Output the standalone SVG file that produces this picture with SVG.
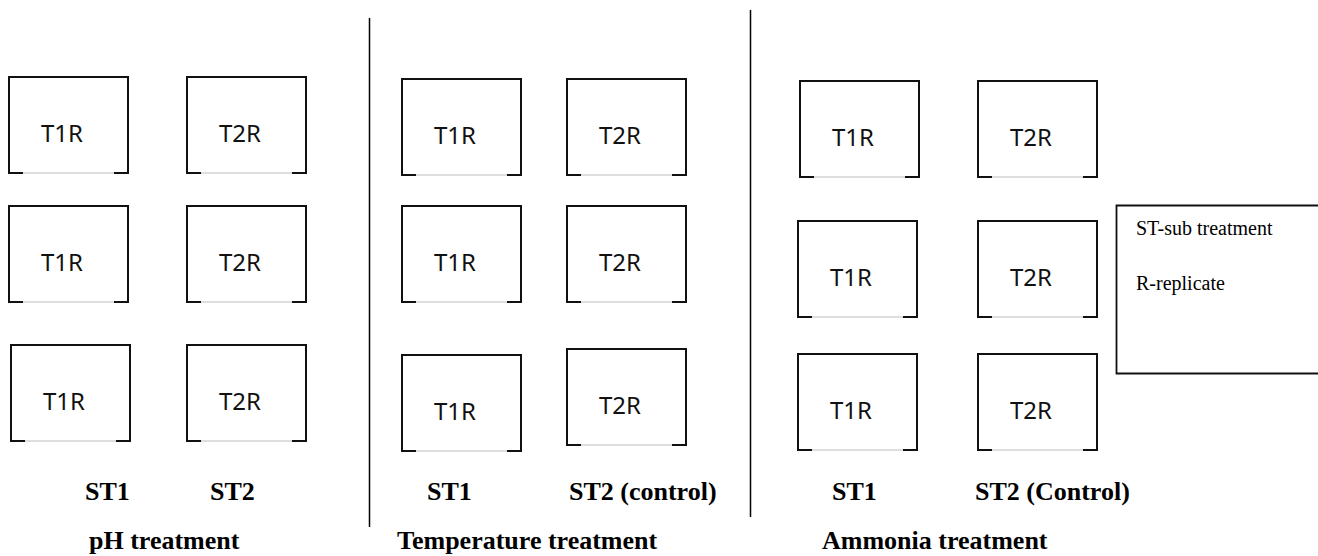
<svg xmlns="http://www.w3.org/2000/svg" xmlns:xlink="http://www.w3.org/1999/xlink" width="1318" height="556" viewBox="0 0 1318 556">
<style>
.edge{fill:none;stroke:#111;stroke-width:2}
.base{fill:none;stroke:#bdbdbd;stroke-width:1}
.bt{font-family:"Noto Sans","Open Sans",sans-serif;font-size:24px;fill:#111}
.lab{font-family:"Liberation Serif","Times New Roman",serif;font-size:26px;font-weight:bold;fill:#000}
.leg{font-family:"Liberation Serif","Times New Roman",serif;font-size:20px;fill:#000}
.div{stroke:#000;stroke-width:1.5;fill:none}
</style>
<defs>
<g id="box">
<rect x="0" y="0" width="119" height="96" fill="#fff" stroke="none"/>
<path class="base" d="M14,96 H105"/>
<path class="edge" d="M14,96 H0 V0 H119 V96 H105"/>
</g>
</defs>
<rect width="1318" height="556" fill="#fff"/>
<g id="dividers">
<line class="div" x1="369.5" y1="18" x2="369.5" y2="527"/>
<line class="div" x1="750.5" y1="10" x2="750.5" y2="517"/>
</g>
<g id="ph-st1-r1" transform="translate(9,77)"><use xlink:href="#box"/><text class="bt" x="32" y="65">T1R</text></g>
<g id="ph-st2-r1" transform="translate(187,77)"><use xlink:href="#box"/><text class="bt" x="32" y="65">T2R</text></g>
<g id="ph-st1-r2" transform="translate(9,206)"><use xlink:href="#box"/><text class="bt" x="32" y="65">T1R</text></g>
<g id="ph-st2-r2" transform="translate(187,206)"><use xlink:href="#box"/><text class="bt" x="32" y="65">T2R</text></g>
<g id="ph-st1-r3" transform="translate(11,345)"><use xlink:href="#box"/><text class="bt" x="32" y="65">T1R</text></g>
<g id="ph-st2-r3" transform="translate(187,345)"><use xlink:href="#box"/><text class="bt" x="32" y="65">T2R</text></g>
<g id="temp-st1-r1" transform="translate(402,79)"><use xlink:href="#box"/><text class="bt" x="32" y="65">T1R</text></g>
<g id="temp-st2-r1" transform="translate(567,79)"><use xlink:href="#box"/><text class="bt" x="32" y="65">T2R</text></g>
<g id="temp-st1-r2" transform="translate(402,206)"><use xlink:href="#box"/><text class="bt" x="32" y="65">T1R</text></g>
<g id="temp-st2-r2" transform="translate(567,206)"><use xlink:href="#box"/><text class="bt" x="32" y="65">T2R</text></g>
<g id="temp-st1-r3" transform="translate(402,355)"><use xlink:href="#box"/><text class="bt" x="32" y="65">T1R</text></g>
<g id="temp-st2-r3" transform="translate(567,349)"><use xlink:href="#box"/><text class="bt" x="32" y="65">T2R</text></g>
<g id="amm-st1-r1" transform="translate(800,81)"><use xlink:href="#box"/><text class="bt" x="32" y="65">T1R</text></g>
<g id="amm-st2-r1" transform="translate(978,81)"><use xlink:href="#box"/><text class="bt" x="32" y="65">T2R</text></g>
<g id="amm-st1-r2" transform="translate(798,221)"><use xlink:href="#box"/><text class="bt" x="32" y="65">T1R</text></g>
<g id="amm-st2-r2" transform="translate(978,221)"><use xlink:href="#box"/><text class="bt" x="32" y="65">T2R</text></g>
<g id="amm-st1-r3" transform="translate(798,354)"><use xlink:href="#box"/><text class="bt" x="32" y="65">T1R</text></g>
<g id="amm-st2-r3" transform="translate(978,354)"><use xlink:href="#box"/><text class="bt" x="32" y="65">T2R</text></g>
<g id="legend">
<path d="M1330,205.5 H1116.5 V373.5 H1330" fill="none" stroke="#111" stroke-width="1.8"/>
<text class="leg" x="1136" y="235">ST-sub treatment</text>
<text class="leg" x="1136" y="290">R-replicate</text>
</g>
<g id="labels">
<text class="lab" x="85" y="500">ST1</text>
<text class="lab" x="210" y="500">ST2</text>
<text class="lab" x="427" y="500">ST1</text>
<text class="lab" x="569" y="500">ST2 (control)</text>
<text class="lab" x="832" y="500">ST1</text>
<text class="lab" x="975" y="500">ST2 (Control)</text>
<text class="lab" x="89" y="549">pH treatment</text>
<text class="lab" x="397" y="549">Temperature treatment</text>
<text class="lab" x="822" y="549">Ammonia treatment</text>
</g>
</svg>
